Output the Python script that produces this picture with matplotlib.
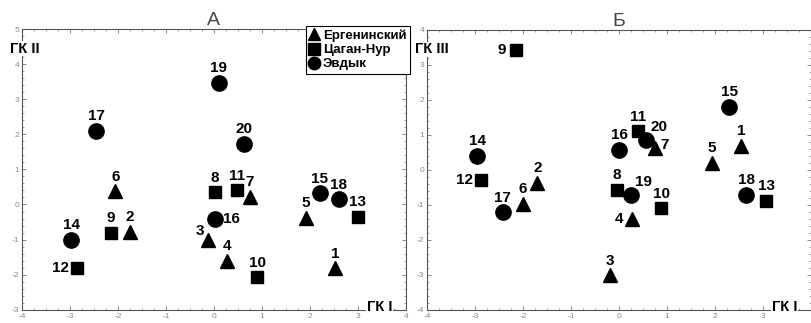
import matplotlib
matplotlib.use("Agg")
import matplotlib.pyplot as plt
from matplotlib.ticker import MultipleLocator, FixedLocator

plt.rcParams['font.family'] = ['Liberation Sans', 'DejaVu Sans']
plt.rcParams['axes.unicode_minus'] = False

# groups: 1-7 Ергенинский, 8-13 Цаган-Нур, 14-20 Эвдык
group_names = ['Ергенинский', 'Цаган-Нур', 'Эвдык']
point_ids = list(range(1, 21))
point_group = [0] * 7 + [1] * 6 + [2] * 7

# panel A: ГК I vs ГК II
gk1_a = [2.52, -1.75, -0.12, 0.28, 1.92, -2.05, 0.75,
         0.02, -2.15, 0.90, 0.48, -2.85, 3.00,
         -2.97, 2.20, 0.02, -2.45, 2.60, 0.10, 0.63]
gk2_a = [-1.82, -0.78, -1.00, -1.60, -0.38, 0.38, 0.22,
         0.35, -0.80, -2.08, 0.40, -1.82, -0.35,
         -1.00, 0.32, -0.40, 2.10, 0.15, 3.47, 1.73]

# panel B: ГК I vs ГК III
gk1_b = [2.55, -1.70, -0.18, 0.27, 1.93, -2.00, 0.75,
         -0.05, -2.15, 0.88, 0.40, -2.87, 3.07,
         -2.95, 2.30, 0.00, -2.42, 2.65, 0.25, 0.57]
gk3_b = [0.68, -0.38, -3.02, -1.40, 0.20, -0.98, 0.62,
         -0.57, 3.42, -1.10, 1.10, -0.30, -0.88,
         0.40, 1.80, 0.57, -1.22, -0.72, -0.72, 0.85]

markers = ['^', 's', 'o']
msizes = [10, 9, 11]

# label offsets (points) for each point id; default is above
off_a = {12: (-12, 0), 16: (12, 0), 3: (-6, 6)}
off_b = {9: (-10, 0), 12: (-12, 0), 4: (-9, 0), 7: (7, 2), 20: (9, 9), 19: (9, 9)}


def draw_panel(ax, xs, ys, offsets, title, ylab, ylim, xticks):
    for g in range(3):
        px = [x for x, k in zip(xs, point_group) if k == g]
        py = [y for y, k in zip(ys, point_group) if k == g]
        ax.plot(px, py, linestyle='none', marker=markers[g], markersize=msizes[g],
                color='black', label=group_names[g])
    for pid, x, y in zip(point_ids, xs, ys):
        dx, dy = offsets.get(pid, (0, 10.5))
        ax.annotate(str(pid), (x, y), xytext=(dx, dy), textcoords='offset points',
                    ha='center', va='center', fontsize=11, fontweight='bold')
    ax.set_xlim(-4, 4)
    ax.set_ylim(*ylim)
    ax.xaxis.set_major_locator(FixedLocator(xticks))
    ax.yaxis.set_major_locator(MultipleLocator(1))
    ax.xaxis.set_minor_locator(MultipleLocator(0.25))
    ax.yaxis.set_minor_locator(MultipleLocator(0.2))
    ax.tick_params(which='both', direction='in', top=True, right=True,
                   labelsize=6, labelcolor='#888888', color='#777777', pad=2)
    ax.tick_params(which='major', length=3, width=0.6)
    ax.tick_params(which='minor', length=1.5, width=0.5)
    for s in ax.spines.values():
        s.set_linewidth(0.8)
        s.set_color('#555555')
    ax.set_title(title, fontsize=14, color='#444444', pad=2)
    bbox = dict(facecolor='white', edgecolor='none', pad=0.5)
    ax.text(-0.03, 0.93, ylab, transform=ax.transAxes, fontsize=10.5,
            fontweight='bold', ha='left', va='center', bbox=bbox, zorder=5)
    ax.text(0.965, 0.01, 'ГК I', transform=ax.transAxes, fontsize=10.5,
            fontweight='bold', ha='right', va='center', bbox=bbox, zorder=5)


fig = plt.figure(figsize=(8.11, 3.23), dpi=100)
ax_a = fig.add_axes([0.027, 0.041, 0.4735, 0.869])
ax_b = fig.add_axes([0.5265, 0.041, 0.4735, 0.867])

draw_panel(ax_a, gk1_a, gk2_a, off_a, 'А', 'ГК II', (-3, 5), range(-4, 5))
draw_panel(ax_b, gk1_b, gk3_b, off_b, 'Б', 'ГК III', (-4, 4), range(-4, 4))

leg = ax_a.legend(loc='upper right', bbox_to_anchor=(1.01, 1.01), fancybox=False,
                  framealpha=1, edgecolor='black', handlelength=0.8,
                  handletextpad=0.25, borderpad=0.25, labelspacing=0.15,
                  borderaxespad=0, prop={'weight': 'bold', 'size': 9.5})
leg.get_frame().set_linewidth(0.8)
leg.set_zorder(10)
for h in leg.legend_handles:
    h.set_markersize(9)

fig.savefig('out.png', dpi=100)
